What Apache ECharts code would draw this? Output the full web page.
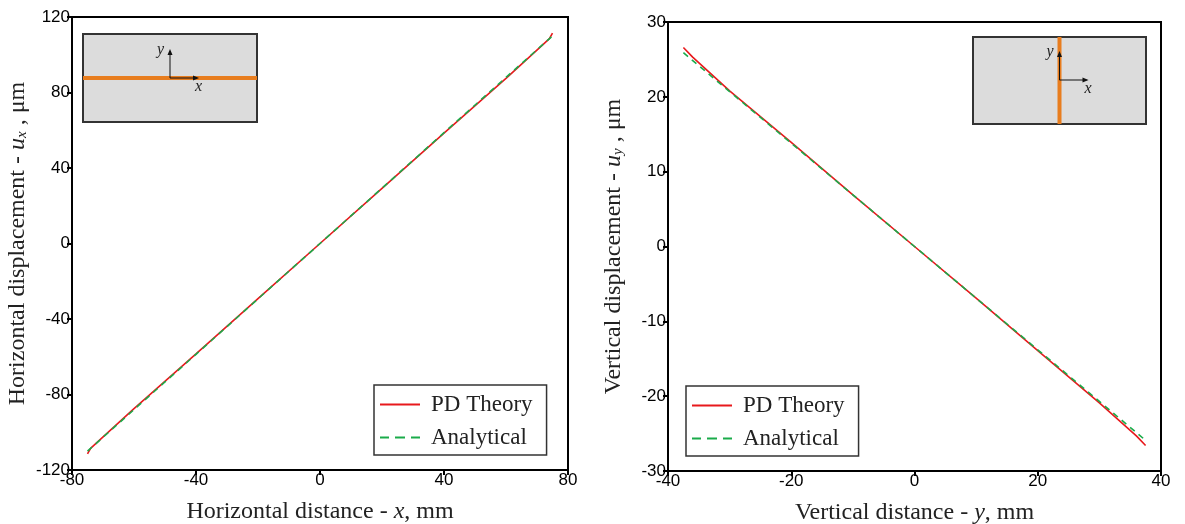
<!DOCTYPE html>
<html><head><meta charset="utf-8">
<script src="https://cdn.jsdelivr.net/npm/echarts@6/dist/echarts.min.js"></script>
<style>html,body{margin:0;padding:0;background:#fff}#c{width:1185px;height:524px}</style>
</head><body><div id="c"></div>
<script>
// Left panel: horizontal displacement along x
const pdX = [-75, -74, -72, -60, -40, -20, 0, 20, 40, 60, 72, 74, 75];
const pdUx = [-111.5, -108.5, -105.5, -87.5, -58.5, -29.2, 0, 29.2, 58.5, 87.5, 105.5, 108.5, 111.5];
const anX = [-75, -60, -40, -20, 0, 20, 40, 60, 75];
const anUx = [-110, -88, -58.7, -29.3, 0, 29.3, 58.7, 88, 110];
// Right panel: vertical displacement along y
const pdY = [-37.5, -36, -30, -20, -10, 0, 10, 20, 30, 36, 37.5];
const pdUy = [26.6, 25.3, 20.8, 13.9, 6.9, 0, -6.9, -13.9, -20.9, -25.3, -26.6];
const anY = [-37.5, -30, -20, -10, 0, 10, 20, 30, 37.5];
const anUy = [25.9, 20.7, 13.8, 6.9, 0, -6.9, -13.8, -20.7, -25.9];
const seriesNames = ['PD Theory', 'Analytical'];

const RED = '#e8191c', GREEN = '#1aab4a';
const sans = 'Liberation Sans', serif = 'Liberation Serif';
const zip = (a, b) => a.map((v, i) => [v, b[i]]);

const chart = echarts.init(document.getElementById('c'));
const axisCommon = {
  axisLine: {show: true, onZero: false, lineStyle: {color: '#000', width: 2}},
  axisTick: {show: true, inside: false, length: 5, lineStyle: {color: '#000', width: 2}},
  axisLabel: {color: '#000', fontFamily: sans, fontSize: 17, margin: 2},
  splitLine: {show: false},
  nameLocation: 'middle',
  nameTextStyle: {color: '#222', fontFamily: serif, fontSize: 24}
};
const richName = {
  n: {fontFamily: serif, fontSize: 24, color: '#222'},
  i: {fontFamily: serif, fontSize: 24, fontStyle: 'italic', color: '#222'},
  s: {fontFamily: serif, fontSize: 15, fontStyle: 'italic', color: '#222', padding: [9, 0, 0, 0]}
};
function mk(o) { return Object.assign({}, JSON.parse(JSON.stringify(axisCommon)), o); }

function inset(x, y, w, h, vertical) {
  const els = [];
  els.push({type: 'rect', shape: {x: x, y: y, width: w, height: h}, style: {fill: '#dcdcdc', stroke: '#333', lineWidth: 2}, z: 100});
  const cx = x + w / 2, cy = y + h / 2;
  if (vertical) {
    els.push({type: 'line', shape: {x1: cx, y1: y, x2: cx, y2: y + h}, style: {stroke: '#e87d1e', lineWidth: 4}, z: 101});
  } else {
    els.push({type: 'line', shape: {x1: x, y1: cy, x2: x + w, y2: cy}, style: {stroke: '#e87d1e', lineWidth: 4}, z: 101});
  }
  const ox = vertical ? cx : x + 87, oy = vertical ? y + 43 : cy;
  els.push({type: 'line', shape: {x1: ox, y1: oy, x2: ox, y2: oy - 27}, style: {stroke: '#111', lineWidth: 1}, z: 102});
  els.push({type: 'polygon', shape: {points: [[ox - 2.5, oy - 23], [ox + 2.5, oy - 23], [ox, oy - 29]]}, style: {fill: '#111'}, z: 102});
  els.push({type: 'line', shape: {x1: ox, y1: oy, x2: ox + 27, y2: oy}, style: {stroke: '#111', lineWidth: 1}, z: 102});
  els.push({type: 'polygon', shape: {points: [[ox + 23, oy - 2.5], [ox + 23, oy + 2.5], [ox + 29, oy]]}, style: {fill: '#111'}, z: 102});
  els.push({type: 'text', x: ox - 13, y: oy - 36, style: {text: 'y', font: 'italic 16px "Liberation Serif"', fill: '#222'}, z: 102});
  els.push({type: 'text', x: ox + 25, y: oy + 1, style: {text: 'x', font: 'italic 16px "Liberation Serif"', fill: '#222'}, z: 102});
  return els;
}

const lineSeries = (name, data, xi, color, dashed) => ({
  name: name, type: 'line', xAxisIndex: xi, yAxisIndex: xi, data: data,
  symbol: 'none', showSymbol: false, smooth: false, animation: false,
  lineStyle: {color: color, width: 1.6, type: dashed ? [6, 5] : 'solid'},
  itemStyle: {color: color}, z: dashed ? 3 : 2
});

const legendData = [
  {name: seriesNames[0], icon: 'path://M0,0 L40,0 L40,2 L0,2 Z'},
  {name: seriesNames[1], icon: 'path://M0,0h9v2h-9z M15,0h10v2h-10z M31,0h9v2h-9z'}
];
const legendCommon = {
  data: legendData, orient: 'vertical', itemWidth: 40, itemHeight: 2, itemGap: 10, symbolKeepAspect: false,
  borderColor: '#333', borderWidth: 1.5, padding: [8, 14, 6, 6],
  textStyle: {fontFamily: serif, fontSize: 23, color: '#222', padding: [0, 0, 0, 6]},
  backgroundColor: '#fff', selectedMode: false
};

chart.setOption({
  animation: false,
  grid: [
    {left: 72, top: 17, width: 496, height: 453, show: true, borderColor: '#000', borderWidth: 2, containLabel: false, outerBoundsMode: 'none'},
    {left: 668, top: 22, width: 493, height: 449, show: true, borderColor: '#000', borderWidth: 2, containLabel: false, outerBoundsMode: 'none'}
  ],
  legend: [
    Object.assign({left: 374, top: 385}, legendCommon),
    Object.assign({left: 686, top: 386}, legendCommon)
  ],
  xAxis: [
    mk({gridIndex: 0, type: 'value', min: -80, max: 80, interval: 40, nameGap: 30,
      name: '{n|Horizontal distance - }{i|x}{n|, mm}', nameTextStyle: {rich: richName}}),
    mk({gridIndex: 1, type: 'value', min: -40, max: 40, interval: 20, nameGap: 30,
      name: '{n|Vertical distance - }{i|y}{n|, mm}', nameTextStyle: {rich: richName}})
  ],
  yAxis: [
    mk({gridIndex: 0, type: 'value', min: -120, max: 120, interval: 40, nameGap: 42,
      name: '{n|Horizontal displacement - }{i|u}{s|x}{n| , μm}', nameTextStyle: {rich: richName}}),
    mk({gridIndex: 1, type: 'value', min: -30, max: 30, interval: 10, nameGap: 42,
      name: '{n|Vertical displacement - }{i|u}{s|y}{n| , μm}', nameTextStyle: {rich: richName}})
  ],
  series: [
    lineSeries(seriesNames[0], zip(pdX, pdUx), 0, RED, false),
    lineSeries(seriesNames[1], zip(anX, anUx), 0, GREEN, true),
    lineSeries(seriesNames[0], zip(pdY, pdUy), 1, RED, false),
    lineSeries(seriesNames[1], zip(anY, anUy), 1, GREEN, true)
  ],
  graphic: [].concat(inset(83, 34, 174, 88, false), inset(973, 37, 173, 87, true))
});
</script></body></html>
